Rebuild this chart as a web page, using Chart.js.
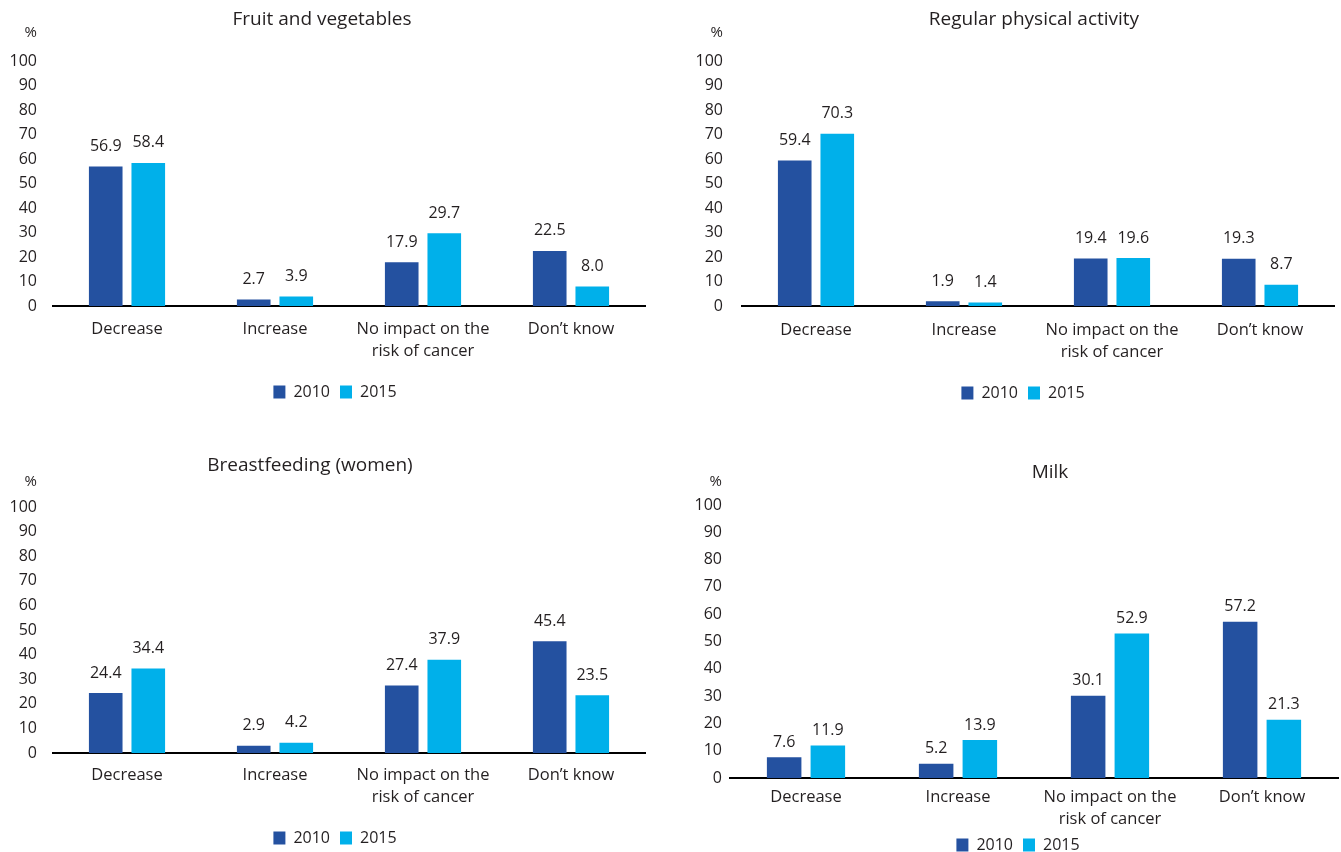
<!DOCTYPE html>
<html>
<head>
<meta charset="utf-8">
<script src="https://cdn.jsdelivr.net/npm/chart.js@4.4.1/dist/chart.umd.min.js"></script>
<style>
  html, body { margin: 0; padding: 0; background: #fff; overflow: hidden; }
  .panel { position: absolute; }
</style>
</head>
<body>
<div class="panel" style="left:0px;top:0px;width:670px;height:430px"><canvas id="FruitChart"></canvas></div>
<div class="panel" style="left:680px;top:0px;width:686px;height:430px"><canvas id="ActivityChart"></canvas></div>
<div class="panel" style="left:0px;top:440px;width:670px;height:430px"><canvas id="BreastfeedingChart"></canvas></div>
<div class="panel" style="left:680px;top:440px;width:676px;height:430px"><canvas id="MilkChart"></canvas></div>
<script>
// data
const categories = ['Decrease', 'Increase', ['No impact on the', 'risk of cancer'], 'Don\u2019t know'];
const years = ['2010', '2015'];

const fruit2010 = [56.9, 2.7, 17.9, 22.5];
const fruit2015 = [58.4, 3.9, 29.7, 8.0];

const activity2010 = [59.4, 1.9, 19.4, 19.3];
const activity2015 = [70.3, 1.4, 19.6, 8.7];

const breastfeeding2010 = [24.4, 2.9, 27.4, 45.4];
const breastfeeding2015 = [34.4, 4.2, 37.9, 23.5];

const milk2010 = [7.6, 5.2, 30.1, 57.2];
const milk2015 = [11.9, 13.9, 52.9, 21.3];

const darkBlue = '#2451a0';
const lightBlue = '#00b0ea';
const textColor = '#231f20';
const fontFamily = '"Open Sans", "DejaVu Sans", sans-serif';

// draws the title, the "%" unit and the value above every bar
const panelText = {
  id: 'panelText',
  afterDatasetsDraw(chart, args, opts) {
    const ctx = chart.ctx;
    const area = chart.chartArea;
    ctx.save();
    ctx.fillStyle = textColor;

    ctx.font = '19px ' + fontFamily;
    ctx.textAlign = 'center';
    ctx.textBaseline = 'middle';
    ctx.fillText(opts.title, opts.titleX, opts.titleY);

    ctx.font = '15px ' + fontFamily;
    ctx.textAlign = 'right';
    ctx.fillText('%', area.left - opts.yPad, opts.pctY);

    ctx.font = '16px ' + fontFamily;
    ctx.textAlign = 'center';
    chart.data.datasets.forEach(function(ds, i) {
      chart.getDatasetMeta(i).data.forEach(function(bar, j) {
        ctx.fillText(ds.data[j].toFixed(1), bar.x, bar.y - opts.labelOffset);
      });
    });
    ctx.restore();
  }
};

function makeChart(canvasId, title, data2010, data2015, lay) {
  const ctx = document.getElementById(canvasId);
  return new Chart(ctx, {
    type: 'bar',
    data: {
      labels: categories,
      datasets: [{
        label: years[0],
        data: data2010,
        backgroundColor: darkBlue,
        barPercentage: 0.79,
        categoryPercentage: 0.575,
      }, {
        label: years[1],
        data: data2015,
        backgroundColor: lightBlue,
        barPercentage: 0.79,
        categoryPercentage: 0.575,
      }]
    },
    options: {
      responsive: true,
      maintainAspectRatio: false,
      animation: false,
      layout: { padding: { top: lay.top, left: 0, right: 0, bottom: lay.bottom } },
      scales: {
        x: {
          grid: { display: false, drawTicks: false },
          border: { display: true, color: '#000', width: 2 },
          ticks: {
            color: textColor,
            padding: lay.xPad,
            maxRotation: 0,
            autoSkip: false,
            font: { family: fontFamily, size: 16.5, lineHeight: 1.35 },
          },
          afterFit: function(scale) { scale.height = lay.xH; },
        },
        y: {
          min: 0,
          max: 100,
          grid: { display: false, drawTicks: false },
          border: { display: false },
          ticks: {
            stepSize: 10,
            color: textColor,
            padding: lay.yPad,
            font: { family: fontFamily, size: 16 },
          },
          afterFit: function(scale) { scale.width = lay.leftW; },
        },
        // empty right-hand spacer so the legend centres like the original
        spacer: {
          position: 'right',
          grid: { display: false, drawTicks: false },
          border: { display: false },
          ticks: { display: false },
          afterFit: function(scale) { scale.width = lay.rightW; },
        }
      },
      plugins: {
        tooltip: { enabled: false },
        legend: {
          position: 'bottom',
          labels: {
            color: textColor,
            boxWidth: 12,
            boxHeight: 13,
            padding: 10,
            font: { family: fontFamily, size: 16 },
          }
        },
        panelText: {
          title: title,
          titleX: lay.titleX,
          titleY: lay.titleY,
          pctY: lay.pctY,
          yPad: lay.yPad,
          labelOffset: lay.labelOffset,
        }
      }
    },
    plugins: [panelText]
  });
}

//Fruit and vegetables
makeChart('FruitChart', 'Fruit and vegetables', fruit2010, fruit2015, {
  top: 61, bottom: 20, leftW: 53, rightW: 25, yPad: 16, xH: 68, xPad: 12,
  titleX: 322, titleY: 20, pctY: 33, labelOffset: 20,
});

//Regular physical activity
makeChart('ActivityChart', 'Regular physical activity', activity2010, activity2015, {
  top: 61, bottom: 19, leftW: 62, rightW: 32, yPad: 19, xH: 69, xPad: 13,
  titleX: 354, titleY: 20, pctY: 33, labelOffset: 20,
});

//Breastfeeding (women)
makeChart('BreastfeedingChart', 'Breastfeeding (women)', breastfeeding2010, breastfeeding2015, {
  top: 67, bottom: 14, leftW: 53, rightW: 25, yPad: 16, xH: 67, xPad: 11,
  titleX: 310, titleY: 26, pctY: 42, labelOffset: 20,
});

//Milk
makeChart('MilkChart', 'Milk', milk2010, milk2015, {
  top: 65, bottom: 7, leftW: 50, rightW: 18, yPad: 8, xH: 49, xPad: 8,
  titleX: 370, titleY: 33, pctY: 42, labelOffset: 15,
});
</script>
</body>
</html>
